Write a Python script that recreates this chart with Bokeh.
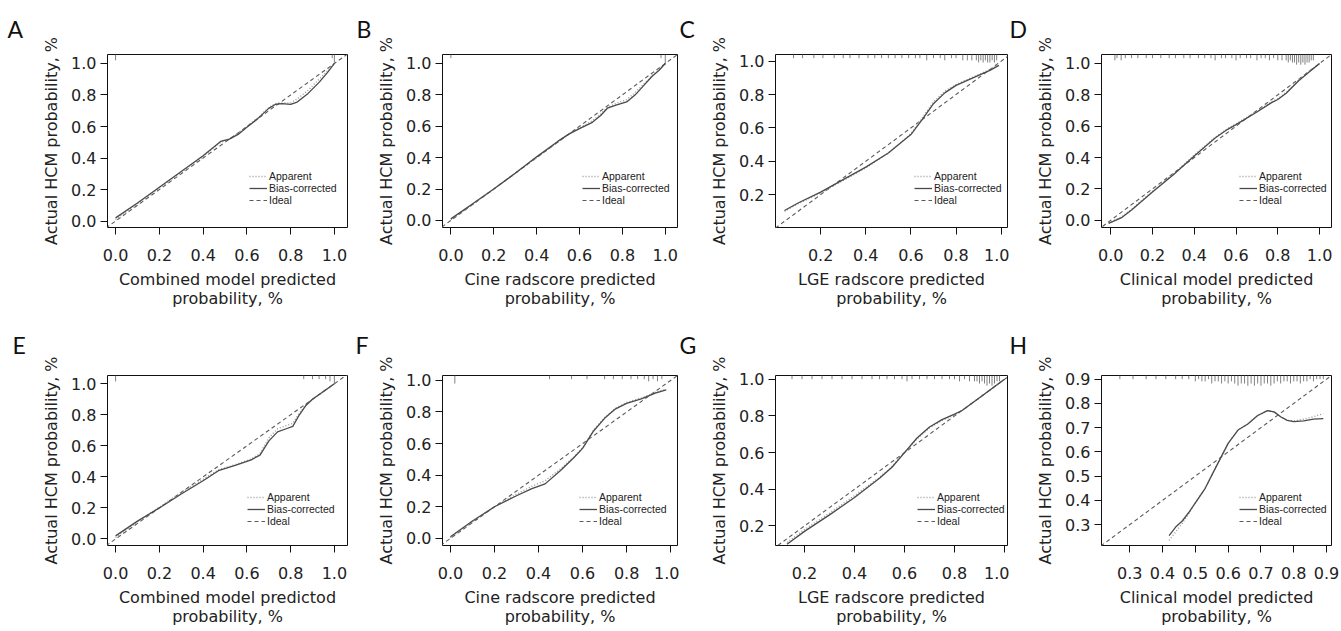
from bokeh.plotting import figure
from bokeh.layouts import column, row
from bokeh.models import Legend, LegendItem, Range1d, FixedTicker, PrintfTickFormatter
from bokeh.embed import file_html
from bokeh.resources import INLINE

# ---------------- data ----------------
panel_letters = ["A", "B", "C", "D", "E", "F", "G", "H"]
x_titles = ["Combined model predicted", "Cine radscore predicted", "LGE radscore predicted",
            "Clinical model predicted", "Combined model predictod", "Cine radscore predicted",
            "LGE radscore predicted", "Clinical model predicted"]
x_title2 = "probability, %"
y_title = "Actual HCM probability, %"
legend_labels = ["Apparent", "Bias-corrected", "Ideal"]

ticks_full = [0.0, 0.2, 0.4, 0.6, 0.8, 1.0]
ticks_lge = [0.2, 0.4, 0.6, 0.8, 1.0]
ticks_clin = [0.3, 0.4, 0.5, 0.6, 0.7, 0.8, 0.9]
ideal_line = [-0.2, 1.2]

A_x = [0.0, 0.1, 0.2, 0.3, 0.4, 0.48, 0.52, 0.56, 0.6, 0.65, 0.7, 0.73, 0.76, 0.8, 0.83, 0.88, 0.93, 0.97, 1.0]
A_bias = [0.02, 0.115, 0.215, 0.315, 0.415, 0.505, 0.52, 0.55, 0.595, 0.65, 0.715, 0.74, 0.745, 0.74, 0.755, 0.81, 0.88, 0.945, 1.0]
A_app = [0.01, 0.11, 0.21, 0.31, 0.41, 0.5, 0.52, 0.555, 0.6, 0.655, 0.72, 0.745, 0.75, 0.75, 0.775, 0.83, 0.9, 0.955, 1.0]

B_x = [0.0, 0.1, 0.2, 0.3, 0.4, 0.5, 0.55, 0.6, 0.66, 0.7, 0.73, 0.77, 0.82, 0.86, 0.9, 0.94, 0.97, 1.0]
B_bias = [0.01, 0.105, 0.2, 0.3, 0.405, 0.505, 0.55, 0.585, 0.625, 0.67, 0.715, 0.735, 0.755, 0.8, 0.86, 0.92, 0.955, 1.0]
B_app = [0.005, 0.1, 0.2, 0.3, 0.4, 0.5, 0.55, 0.59, 0.635, 0.68, 0.72, 0.745, 0.77, 0.815, 0.87, 0.925, 0.96, 1.0]

C_x = [0.04, 0.1, 0.2, 0.3, 0.4, 0.5, 0.6, 0.65, 0.7, 0.75, 0.8, 0.85, 0.9, 0.95, 0.99]
C_bias = [0.105, 0.15, 0.215, 0.29, 0.365, 0.45, 0.56, 0.65, 0.745, 0.81, 0.855, 0.885, 0.915, 0.945, 0.975]
C_app = [0.1, 0.145, 0.21, 0.285, 0.36, 0.45, 0.565, 0.66, 0.755, 0.82, 0.86, 0.89, 0.92, 0.95, 0.98]

D_x = [-0.01, 0.05, 0.1, 0.2, 0.3, 0.4, 0.5, 0.56, 0.6, 0.7, 0.77, 0.8, 0.84, 0.9, 0.95, 1.0]
D_bias = [-0.02, 0.015, 0.065, 0.18, 0.29, 0.41, 0.525, 0.58, 0.61, 0.69, 0.75, 0.77, 0.81, 0.89, 0.945, 1.0]
D_app = [-0.015, 0.02, 0.07, 0.185, 0.295, 0.415, 0.53, 0.585, 0.615, 0.695, 0.755, 0.775, 0.815, 0.895, 0.95, 1.0]

E_x = [0.0, 0.1, 0.2, 0.3, 0.4, 0.47, 0.55, 0.62, 0.66, 0.7, 0.74, 0.78, 0.81, 0.84, 0.87, 0.9, 0.95, 1.0]
E_bias = [0.02, 0.115, 0.2, 0.29, 0.375, 0.44, 0.475, 0.51, 0.54, 0.63, 0.69, 0.71, 0.725, 0.8, 0.86, 0.9, 0.95, 1.0]
E_app = [0.01, 0.11, 0.205, 0.3, 0.385, 0.445, 0.48, 0.515, 0.55, 0.65, 0.71, 0.73, 0.745, 0.81, 0.865, 0.9, 0.95, 1.0]

F_x = [0.0, 0.1, 0.2, 0.3, 0.37, 0.43, 0.5, 0.56, 0.6, 0.65, 0.7, 0.75, 0.8, 0.87, 0.93, 0.98]
F_bias = [0.01, 0.11, 0.2, 0.27, 0.315, 0.345, 0.43, 0.51, 0.57, 0.68, 0.76, 0.82, 0.855, 0.885, 0.92, 0.94]
F_app = [0.005, 0.105, 0.2, 0.28, 0.33, 0.365, 0.44, 0.515, 0.575, 0.685, 0.765, 0.825, 0.86, 0.89, 0.925, 0.945]

G_x = [0.13, 0.2, 0.3, 0.4, 0.5, 0.55, 0.6, 0.65, 0.7, 0.75, 0.8, 0.83, 0.9, 0.95, 1.0]
G_bias = [0.1, 0.17, 0.26, 0.355, 0.46, 0.52, 0.6, 0.68, 0.74, 0.78, 0.81, 0.83, 0.9, 0.95, 1.0]
G_app = [0.11, 0.18, 0.27, 0.365, 0.465, 0.525, 0.6, 0.675, 0.735, 0.775, 0.805, 0.83, 0.9, 0.95, 1.0]

H_x = [0.42, 0.44, 0.46, 0.48, 0.5, 0.53, 0.56, 0.6, 0.63, 0.66, 0.69, 0.72, 0.74, 0.76, 0.78, 0.8, 0.83, 0.86, 0.89]
H_bias = [0.255, 0.29, 0.315, 0.35, 0.39, 0.45, 0.53, 0.635, 0.69, 0.715, 0.75, 0.77, 0.765, 0.745, 0.73, 0.725, 0.728, 0.735, 0.737]
H_app = [0.235, 0.27, 0.305, 0.345, 0.39, 0.45, 0.53, 0.635, 0.69, 0.715, 0.75, 0.77, 0.765, 0.745, 0.73, 0.728, 0.735, 0.745, 0.758]

# rug (distribution of predictions) : positions and counts
rug_A = [0.0, 0.99, 1.0]
rug_A_n = [2, 1, 3]
rug_B = [0.0, 0.98, 1.0]
rug_B_n = [1, 1, 4]
rug_C = [0.08, 0.12, 0.17, 0.21, 0.26, 0.3, 0.33, 0.37, 0.41, 0.44, 0.47, 0.5, 0.53, 0.56, 0.59, 0.62, 0.64,
         0.67, 0.7, 0.73, 0.75, 0.78, 0.8, 0.83, 0.85, 0.87, 0.89, 0.9, 0.91, 0.92, 0.93, 0.94, 0.95, 0.96, 0.97, 0.98]
rug_C_n = [1, 1, 1, 1, 1, 1, 1, 1, 1, 1, 1, 1, 1, 1, 1, 1, 1, 2, 1, 1, 2, 1, 1, 2, 2, 2, 2, 3, 2, 3, 2, 3, 3, 2, 3, 2]
rug_D = [0.02, 0.03, 0.05, 0.07, 0.1, 0.13, 0.17, 0.2, 0.24, 0.28, 0.31, 0.35, 0.38, 0.42, 0.45, 0.48, 0.5, 0.53,
         0.55, 0.58, 0.6, 0.62, 0.65, 0.67, 0.7, 0.72, 0.74, 0.76, 0.78, 0.8, 0.82, 0.84, 0.85, 0.86, 0.87, 0.88,
         0.89, 0.9, 0.91, 0.92, 0.93, 0.94, 0.95, 0.96, 0.97]
rug_D_n = [2, 1, 2, 1, 1, 1, 1, 1, 1, 1, 1, 1, 1, 1, 1, 1, 2, 1, 1, 1, 2, 1, 1, 1, 2, 1, 1, 2, 1, 2, 2, 2, 3, 2,
           3, 3, 4, 3, 4, 3, 4, 3, 3, 2, 2]
rug_E = [0.0, 0.86, 0.9, 0.93, 0.96, 0.98, 1.0]
rug_E_n = [2, 1, 1, 1, 1, 2, 3]
rug_F = [0.02, 0.45, 0.55, 0.62, 0.7, 0.74, 0.78, 0.82, 0.85, 0.88, 0.9, 0.92, 0.94, 0.96]
rug_F_n = [3, 1, 1, 1, 1, 1, 1, 1, 1, 1, 2, 1, 2, 1]
rug_G = [0.15, 0.19, 0.23, 0.27, 0.31, 0.35, 0.39, 0.43, 0.47, 0.5, 0.53, 0.56, 0.59, 0.61, 0.63, 0.66, 0.69, 0.72,
         0.75, 0.78, 0.8, 0.82, 0.84, 0.86, 0.88, 0.89, 0.9, 0.91, 0.92, 0.93, 0.94, 0.95, 0.96, 0.97, 0.98]
rug_G_n = [1, 1, 1, 1, 1, 1, 1, 1, 1, 1, 1, 1, 1, 2, 1, 1, 1, 1, 1, 1, 1, 2, 1, 2, 2, 2, 3, 2, 3, 4, 3, 4, 3, 2, 2]
rug_H = [0.27, 0.31, 0.35, 0.38, 0.41, 0.44, 0.46, 0.48, 0.5, 0.51, 0.52, 0.53, 0.54, 0.55, 0.56, 0.57, 0.58, 0.59,
         0.6, 0.61, 0.62, 0.63, 0.64, 0.65, 0.66, 0.67, 0.68, 0.69, 0.7, 0.71, 0.72, 0.73, 0.74, 0.75, 0.76, 0.77,
         0.78, 0.79, 0.8, 0.81, 0.82, 0.83, 0.84, 0.85, 0.86, 0.87, 0.88, 0.89]
rug_H_n = [1, 1, 1, 1, 1, 1, 1, 1, 2, 1, 2, 2, 1, 3, 2, 2, 3, 2, 3, 2, 3, 4, 3, 3, 4, 3, 4, 3, 4, 3, 3, 4, 3, 2,
           3, 2, 2, 3, 2, 2, 3, 2, 2, 1, 2, 1, 1, 1]

# ---------------- layout / style config ----------------
TXT = "#222222"
FONT = "DejaVu Sans"

panels = [
    dict(x=A_x, app=A_app, bias=A_bias, rug=rug_A, rn=rug_A_n, xr=(-0.037, 1.06), yr=(-0.041, 1.057), xt=ticks_full, yt=ticks_full),
    dict(x=B_x, app=B_app, bias=B_bias, rug=rug_B, rn=rug_B_n, xr=(-0.039, 1.057), yr=(-0.045, 1.057), xt=ticks_full, yt=ticks_full),
    dict(x=C_x, app=C_app, bias=C_bias, rug=rug_C, rn=rug_C_n, xr=(0.0, 1.028), yr=(0.003, 1.04), xt=ticks_lge, yt=ticks_lge),
    dict(x=D_x, app=D_app, bias=D_bias, rug=rug_D, rn=rug_D_n, xr=(-0.044, 1.057), yr=(-0.046, 1.057), xt=ticks_full, yt=ticks_full),
    dict(x=E_x, app=E_app, bias=E_bias, rug=rug_E, rn=rug_E_n, xr=(-0.037, 1.06), yr=(-0.042, 1.053), xt=ticks_full, yt=ticks_full),
    dict(x=F_x, app=F_app, bias=F_bias, rug=rug_F, rn=rug_F_n, xr=(-0.036, 1.031), yr=(-0.045, 1.031), xt=ticks_full, yt=ticks_full),
    dict(x=G_x, app=G_app, bias=G_bias, rug=rug_G, rn=rug_G_n, xr=(0.084, 1.012), yr=(0.093, 1.021), xt=ticks_lge, yt=ticks_lge),
    dict(x=H_x, app=H_app, bias=H_bias, rug=rug_H, rn=rug_H_n, xr=(0.214, 0.915), yr=(0.214, 0.915), xt=ticks_clin, yt=ticks_clin),
]

# column geometry: (width, border_left, border_right)
cols = [(351, 107, 4), (328, 91, 2), (330, 96, 2), (330, 92, 8)]
# row geometry: (height, border_top, border_bottom, letter standoff)
rows_cfg = [(311, 52, 84, 24), (318, 62, 84, 34)]
letter_dx = [-100, -86, -96, -92, -95, -87, -96, -92]
legend_xy = [(142, 21), (140, 21), (139, 21), (138, 21), (140, 18), (137, 18), (142, 18), (138, 18)]


def make_panel(i):
    d = panels[i]
    cw, bl, br = cols[i % 4]
    rh, bt, bb, lstand = rows_cfg[i // 4]
    fh = rh - bt - bb
    p = figure(width=cw, height=rh, output_backend="svg", toolbar_location=None,
               title=panel_letters[i],
               x_range=Range1d(*d["xr"]), y_range=Range1d(*d["yr"]),
               min_border_left=bl, min_border_right=br, min_border_top=bt, min_border_bottom=bb)
    p.title.text_font = "Lato"
    p.title.text_font_size = "23px"
    p.title.text_font_style = "normal"
    p.title.text_color = "#111111"
    p.title.align = "left"
    p.title.offset = letter_dx[i]
    p.title.standoff = lstand
    p.grid.visible = False
    p.background_fill_color = "white"
    p.border_fill_color = "white"
    p.outline_line_color = "#111111"
    p.outline_line_width = 1
    p.outline_line_alpha = 1

    for ax, ticks in ((p.xaxis, d["xt"]), (p.yaxis, d["yt"])):
        ax.ticker = FixedTicker(ticks=ticks)
        ax.formatter = PrintfTickFormatter(format="%.1f")
        ax.axis_line_color = None
        ax.major_tick_in = 0
        ax.major_tick_out = 7
        ax.major_tick_line_color = "#111111"
        ax.minor_tick_line_color = None
        ax.major_label_text_font = FONT
        ax.major_label_text_font_size = "16px"
        ax.major_label_text_color = TXT
        ax.axis_label_text_font = FONT
        ax.axis_label_text_font_size = "16px"
        ax.axis_label_text_font_style = "normal"
        ax.axis_label_text_color = TXT
    p.xaxis.major_label_standoff = 14
    p.xaxis.axis_label_standoff = 6
    p.xaxis.axis_label_text_line_height = 1.0
    p.yaxis.major_label_standoff = 4
    p.yaxis.axis_label_standoff = 7
    p.xaxis.axis_label = x_titles[i] + "\n" + x_title2
    p.yaxis.axis_label = y_title

    # rug at top
    y0, y1 = d["yr"]
    per_px = (y1 - y0) / fh
    tops = [y1] * len(d["rug"])
    bots = [y1 - (1.5 + 2.2 * n) * per_px for n in d["rn"]]
    p.segment(x0=d["rug"], y0=tops, x1=d["rug"], y1=bots, line_color="#808080", line_width=1)

    r_ideal = p.line(ideal_line, ideal_line, line_color="#5a5a5a", line_width=1.1, line_dash="4 3")
    r_app = p.line(d["x"], d["app"], line_color="#9a9a9a", line_width=1.4, line_dash="1 2")
    r_bias = p.line(d["x"], d["bias"], line_color="#4a4a4a", line_width=1.3)

    leg = Legend(items=[LegendItem(label=legend_labels[0], renderers=[r_app]),
                        LegendItem(label=legend_labels[1], renderers=[r_bias]),
                        LegendItem(label=legend_labels[2], renderers=[r_ideal])],
                 location=legend_xy[i], background_fill_alpha=0, border_line_color=None,
                 glyph_width=18, glyph_height=10, label_height=10, spacing=0, padding=0, margin=0,
                 label_standoff=2, label_text_font="Liberation Sans", label_text_font_size="10.5px",
                 label_text_color=TXT, label_text_line_height=0.9)
    p.add_layout(leg)
    return p


figs = [make_panel(i) for i in range(8)]
layout = column(row(*figs[:4], spacing=0), row(*figs[4:], spacing=0), spacing=0)
open("out.html", "w").write(file_html(layout, INLINE))
